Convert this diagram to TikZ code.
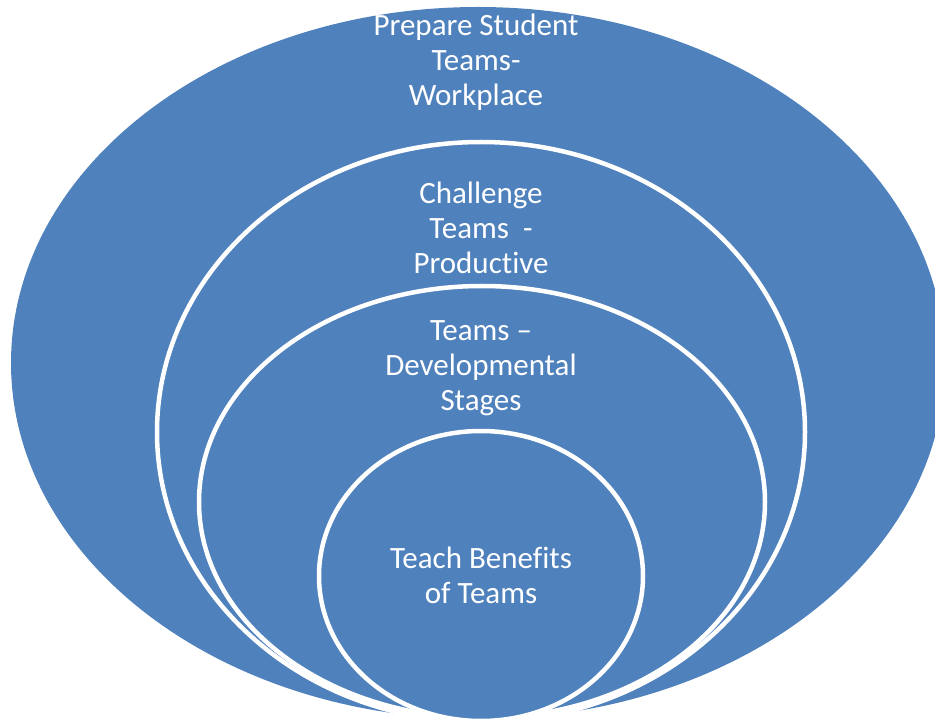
\documentclass[tikz,border=0pt]{standalone}
\usepackage{fontspec}
\setmainfont{Carlito}[Ligatures=NoCommon]
\usetikzlibrary{shapes.geometric}
\definecolor{ringblue}{HTML}{4F81BD}
\tikzset{
  ring/.style={ellipse, fill=ringblue, draw=white, line width=4.5pt, inner sep=0pt,
    minimum width=#1},
  outerring/.style={ellipse, fill=ringblue, inner sep=0pt},
  label/.style={text=white, align=center, font=\fontsize{31}{35}\selectfont, inner sep=0pt}
}
\begin{document}
\begin{tikzpicture}[x=1pt, y=-1pt]
  \useasboundingbox (0,0) rectangle (935,719);
  \clip (0,0) rectangle (935,719);
  % nested ellipses, outermost first
  \node[outerring, minimum width=934pt, minimum height=712pt] (workplace) at (478,363) {};
  \node[ring=648pt, minimum height=580pt] (productive) at (481,432) {};
  \node[ring=566pt, minimum height=432pt] (stages) at (482,502) {};
  \node[ring=324pt, minimum height=290pt] (benefits) at (481,576) {};
  % captions
  \node[label] (t1) at (476,62) {Prepare Student\\Teams-\\Workplace};
  \node[label] (t2) at (481,228) {Challenge\\Teams~~-\\Productive};
  \node[label] (t3) at (481,368) {Teams --\\Developmental\\Stages};
  \node[label] (t4) at (481,575) {Teach Benefits\\of Teams};
\end{tikzpicture}
\end{document}
